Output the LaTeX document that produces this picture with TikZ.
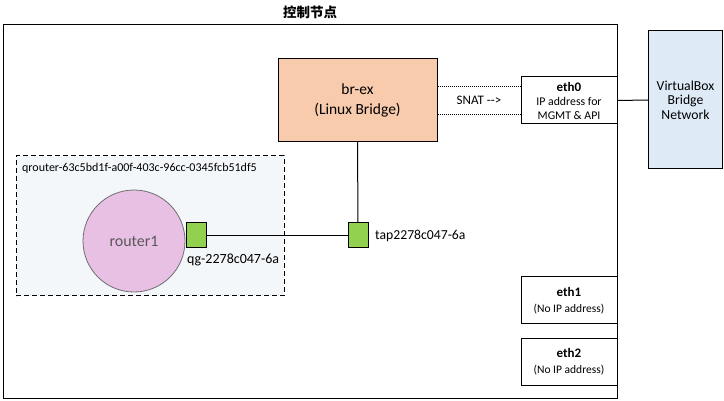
\documentclass[tikz,border=0pt]{standalone}
\usepackage{fontspec}
\setmainfont{Carlito}
\newfontfamily\cjk{Noto Sans CJK SC}
\definecolor{peach}{HTML}{F8CBAD}
\definecolor{vbblue}{HTML}{DEEBF7}
\definecolor{nsfill}{HTML}{F4F7FA}
\definecolor{rtfill}{HTML}{E8C0E4}
\definecolor{rtline}{HTML}{6E6E6E}
\definecolor{rttext}{HTML}{595959}
\definecolor{portgreen}{HTML}{92D050}
\tikzset{
  box/.style={draw=black, line width=1pt, rectangle, inner sep=0pt, align=center},
  port/.style={draw=black, line width=1pt, fill=portgreen, minimum width=20pt, minimum height=25pt, inner sep=0pt},
  link/.style={line width=1pt},
  dotlink/.style={line width=0.7pt, dash pattern=on 1pt off 1pt},
  lbl/.style={inner sep=0pt}
}
\begin{document}
\begin{tikzpicture}[x=1pt,y=-1pt]
\useasboundingbox (0,0) rectangle (724,401);
% outer box
\node[box, minimum width=614pt, minimum height=373pt] (ctrl) at (310,211.5) {};
\node[lbl, font=\cjk\bfseries\fontsize{13.5}{16}\selectfont] (title) at (310,12) {控制节点};
% qrouter namespace
\node[draw=black, line width=1pt, dash pattern=on 5pt off 3pt, fill=nsfill, minimum width=268pt, minimum height=140pt, inner sep=0pt] (ns) at (150,226) {};
\node[lbl, anchor=west, font=\fontsize{12}{13}\selectfont] (nslbl) at (22,168) {qrouter-63c5bd1f-a00f-403c-96cc-0345fcb51df5};
% router
\node[circle, draw=rtline, line width=0.8pt, fill=rtfill, minimum size=102pt, inner sep=0pt, text=rttext, font=\fontsize{16}{17}\selectfont] (r1) at (134,241) {router1};
% ports
\node[port] (qg) at (196,235.5) {};
\node[port] (tap) at (358,235.5) {};
\node[lbl, anchor=west, font=\fontsize{14}{15}\selectfont] (qglbl) at (187,260) {qg-2278c047-6a};
\node[lbl, anchor=west, font=\fontsize{13.7}{15}\selectfont] (taplbl) at (375,236) {tap2278c047-6a};
% br-ex
\node[box, fill=peach, minimum width=159pt, minimum height=83pt, font=\fontsize{15.5}{20}\selectfont] (brex) at (357.5,100) {br-ex\\(Linux Bridge)};
% eth boxes
\node[box, fill=white, minimum width=96pt, minimum height=47pt, font=\fontsize{11.8}{14}\selectfont] (eth0) at (569,100.5) {{\bfseries\fontsize{13}{13}\selectfont eth0}\\IP address for\\MGMT \& API};
\node[box, fill=white, minimum width=96pt, minimum height=47pt, font=\fontsize{11.5}{16}\selectfont] (eth1) at (569,300.5) {{\bfseries\fontsize{13}{13}\selectfont eth1}\\(No IP address)};
\node[box, fill=white, minimum width=96pt, minimum height=47pt, font=\fontsize{11.5}{16}\selectfont] (eth2) at (569,361.5) {{\bfseries\fontsize{13}{13}\selectfont eth2}\\(No IP address)};
% VirtualBox
\node[box, fill=vbblue, minimum width=74pt, minimum height=138pt, font=\fontsize{13.7}{14.5}\selectfont] (vb) at (685.5,100) {VirtualBox\\Bridge\\Network};
% connectors
\draw[link] (brex.south) -- (tap.north);
\draw[link] (qg.east) -- (tap.west);
\draw[link] (eth0.east) -- (vb.west);
\draw[dotlink] ([yshift=14pt]brex.east) -- ([yshift=14pt]brex.east -| eth0.west);
\draw[dotlink] ([yshift=-14pt]brex.east) -- ([yshift=-14pt]brex.east -| eth0.west);
\node[lbl, font=\fontsize{13}{14}\selectfont] (snat) at (479,100) {SNAT {-}{-}>};
\end{tikzpicture}
\end{document}
